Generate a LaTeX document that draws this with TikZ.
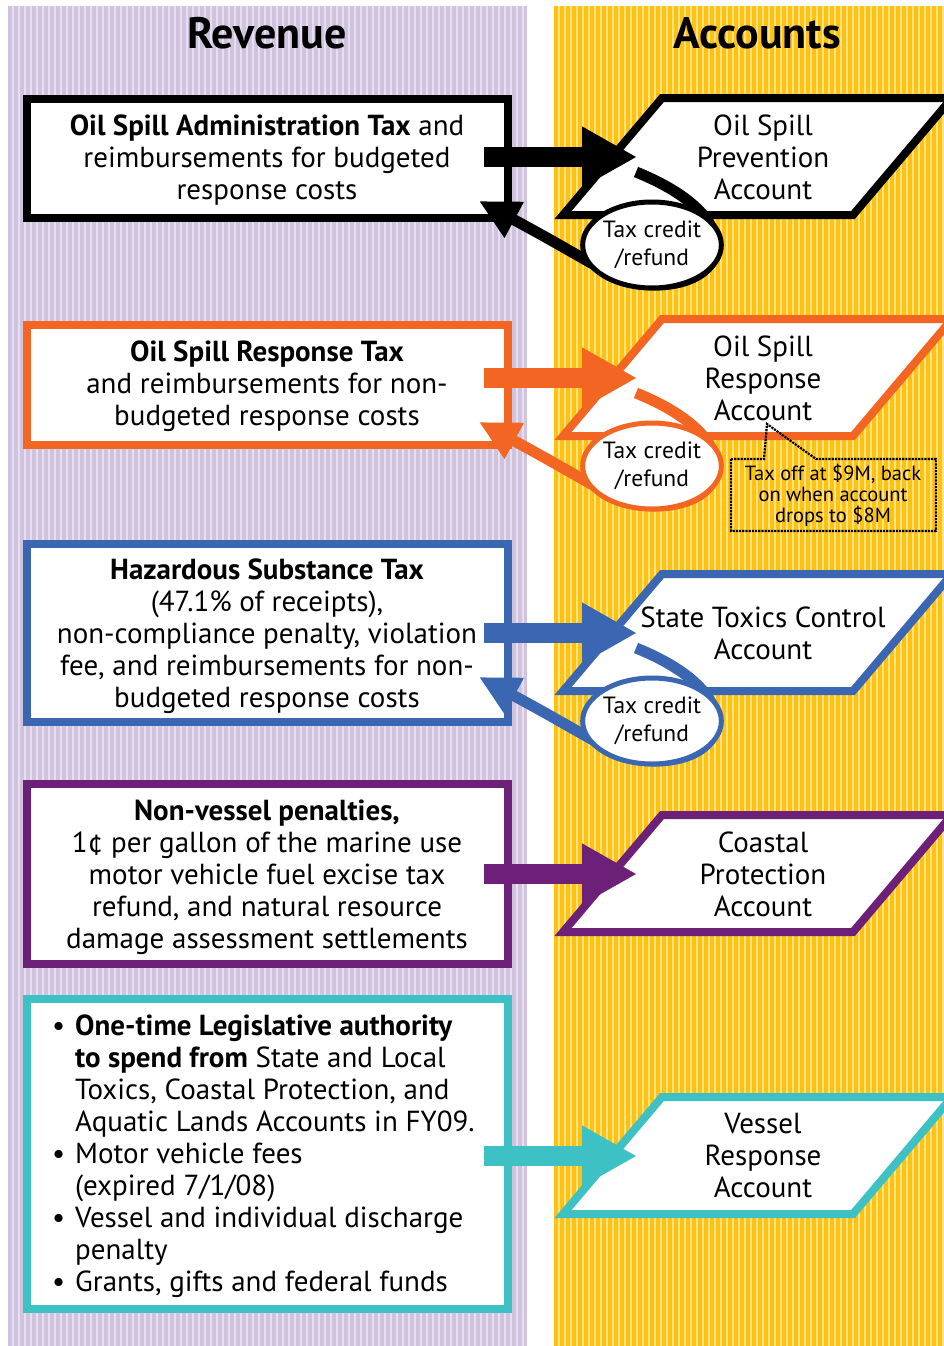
\documentclass[tikz,border=0pt]{standalone}
\usepackage{fontspec}
\setmainfont{PT Sans}
\usetikzlibrary{arrows.meta,shapes.geometric,calc}
\definecolor{lavD}{HTML}{CFC3DD}
\definecolor{lavL}{HTML}{E7DFEF}
\definecolor{yelD}{HTML}{FFC20E}
\definecolor{yelL}{HTML}{FFE28C}
\definecolor{cBlack}{HTML}{000000}
\definecolor{cOrange}{HTML}{F26522}
\definecolor{cBlue}{HTML}{3B67B2}
\definecolor{cPurple}{HTML}{6D2077}
\definecolor{cTeal}{HTML}{3EC1C4}
\tikzset{
  revbox/.style={draw=#1, fill=white, line width=8pt, minimum width=481pt, inner sep=0pt},
  txt/.style={align=center, inner sep=0pt, font=\fontsize{29}{32}\selectfont},
  acctxt/.style={align=center, inner sep=0pt, font=\fontsize{29}{32}\selectfont},
  para/.style={draw=#1, fill=white, line width=8pt, line join=miter},
  bigarrow/.style={draw=#1, line width=20pt, -{Triangle[length=55pt,width=57pt]}},
  loopline/.style={draw=#1, line width=11pt, -{Triangle[length=40pt,width=38pt]}},
  creditell/.style={ellipse, draw=#1, fill=white, line width=5pt, minimum width=128pt, minimum height=86pt, inner sep=0pt, align=center, font=\fontsize{23.5}{28}\selectfont},
  header/.style={inner sep=0pt, font=\bfseries\fontsize{44}{44}\selectfont}
}
\newcommand{\accrow}[4]{% #1 colour, #2 y offset, #3 name, #4 text
  \begin{scope}[shift={(0,#2)}]
    \path[para=#1] (563,215) -- (662,98) -- (952,98) -- (853,215) -- cycle;
    \node[acctxt] (#3) at (763,157) {#4};
    \coordinate (#3arrS) at (484,157);
    \coordinate (#3arrE) at (637,157);
  \end{scope}
  \draw[bigarrow=#1] (#3arrS) -- (#3arrE);
}
\newcommand{\creditloop}[3]{% #1 colour, #2 y offset, #3 name
  \begin{scope}[shift={(0,#2)}]
    \coordinate (#3S) at (636,172);
    \coordinate (#3B) at (655,285);
    \coordinate (#3T) at (479,201);
    \draw[loopline=#1] (#3S) .. controls (750,218) and (730,285) .. (#3B)
      .. controls (620,285) and (600,266) .. (#3T);
    \node[creditell=#1] (#3E) at (652,245) {Tax credit\\/refund};
  \end{scope}
}
\begin{document}
\begin{tikzpicture}[x=1pt,y=-1pt]
\useasboundingbox (0,0) rectangle (944,1346);
\fill[white] (0,0) rectangle (944,1346);
% backgrounds
\fill[lavD] (8,6) rectangle (527,1346);
\foreach \x in {12,18,...,524} \fill[lavL] (\x,6) rectangle ++(2,1340);
\fill[yelD] (554,6) rectangle (944,1346);
\foreach \x in {558,564,...,942} \fill[yelL] (\x,6) rectangle ++(2,1340);
% headers
\node[header] (hrev) at (267,33) {Revenue};
\node[header] (hacc) at (757,33) {Accounts};
% revenue boxes
\node[revbox=cBlack, minimum height=119pt] (b1) at (267.5,158.5) {};
\node[revbox=cOrange, minimum height=120pt] (b2) at (267.5,385) {};
\node[revbox=cBlue, minimum height=178pt] (b3) at (267.5,633) {};
\node[revbox=cPurple, minimum height=180pt] (b4) at (267.5,874) {};
\node[revbox=cTeal, minimum height=310pt] (b5) at (267.5,1154) {};
\node[txt] (t1) at (267,160) {\textbf{Oil Spill Administration Tax} and\\reimbursements for budgeted\\response costs};
\node[txt] (t2) at (267,386) {\textbf{Oil Spill Response Tax}\\and reimbursements for non-\\budgeted response costs};
\node[txt] (t3) at (267,636) {\textbf{Hazardous Substance Tax}\\(47.1\% of receipts),\\non-compliance penalty, violation\\fee, and reimbursements for non-\\budgeted response costs};
\node[txt] (t4) at (267,877) {\textbf{Non-vessel penalties,}\\1¢ per gallon of the marine use\\motor vehicle fuel excise tax\\refund, and natural resource\\damage assessment settlements};
\node[txt, align=left, anchor=west] (t5) at (52,1156) {%
\makebox[23pt][l]{•}\textbf{One-time Legislative authority}\\
\hspace*{23pt}\textbf{to spend from} State and Local\\
\hspace*{23pt}Toxics, Coastal Protection, and\\
\hspace*{23pt}Aquatic Lands Accounts in FY09.\\
\makebox[23pt][l]{•}Motor vehicle fees\\
\hspace*{23pt}(expired 7/1/08)\\
\makebox[23pt][l]{•}Vessel and individual discharge\\
\hspace*{23pt}penalty\\
\makebox[23pt][l]{•}Grants, gifts and federal funds};
% accounts
\accrow{cBlack}{0}{p1}{Oil Spill\\Prevention\\Account}
\accrow{cOrange}{221}{p2}{Oil Spill\\Response\\Account}
\accrow{cBlue}{476}{p3}{State Toxics Control\\Account}
\accrow{cPurple}{717}{p4}{Coastal\\Protection\\Account}
\accrow{cTeal}{999}{p5}{Vessel\\Response\\Account}
% tax credit loops
\creditloop{cBlack}{0}{l1}
\creditloop{cOrange}{221}{l2}
\creditloop{cBlue}{476}{l3}
% callout
\coordinate (cp) at (767,424);
\draw[line width=2.2pt, densely dotted] (731,459) -- (764,459) -- (cp) -- (816,459) -- (936,459) -- (936,531) -- (731,531) -- cycle;
\node[inner sep=0pt, align=center, font=\fontsize{20.5}{21}\selectfont] (note) at (833,495) {Tax off at \$9M, back\\on when account\\drops to \$8M};
\end{tikzpicture}
\end{document}
